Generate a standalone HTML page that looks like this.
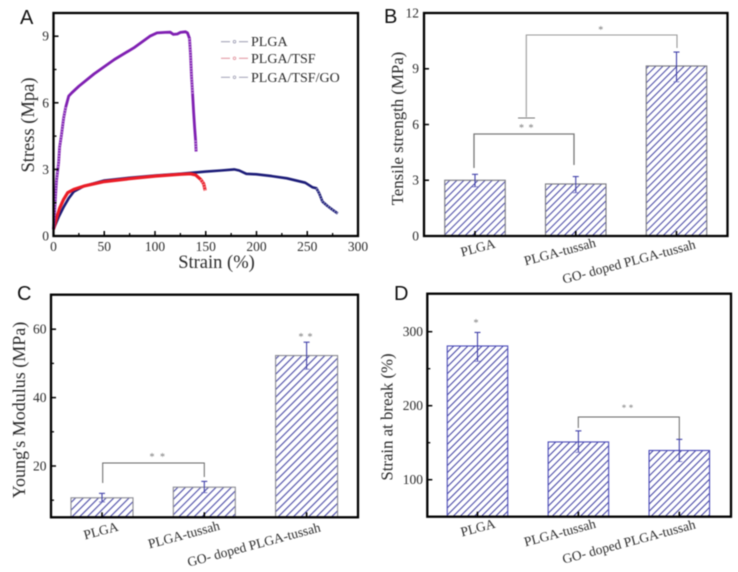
<!DOCTYPE html>
<html lang="en">
<head>
<meta charset="utf-8">
<title>Mechanical properties of PLGA films</title>
<style>
html,body{margin:0;padding:0;background:#fff;width:738px;height:572px;overflow:hidden}
svg{display:block;filter:blur(0.4px)}
text{font-family:"Liberation Serif",serif;fill:#2b2b2b}
.letter{font-family:"Liberation Sans",sans-serif;font-size:20px;fill:#111}
</style>
</head>
<body>
<svg id="fig" xmlns="http://www.w3.org/2000/svg" width="738" height="572" viewBox="0 0 738 572">
  <defs>
    <pattern id="hatchB" width="5" height="5" patternUnits="userSpaceOnUse" patternTransform="rotate(45)"><rect width="1.05" height="5" fill="#4a4aa6"/></pattern>
    <pattern id="hatchC" width="5.4" height="5.4" patternUnits="userSpaceOnUse" patternTransform="rotate(45)"><rect width="1.1" height="5.4" fill="#4a4aa6"/></pattern>
    <pattern id="hatchD" width="5" height="5" patternUnits="userSpaceOnUse" patternTransform="rotate(45)"><rect width="1.05" height="5" fill="#4444a4"/></pattern>
  </defs>
  <text class="letter" x="20" y="24">A</text>
  <text class="letter" x="384" y="23">B</text>
  <text class="letter" x="17" y="300">C</text>
  <text class="letter" x="394" y="300">D</text>
</svg>
<script>
// Panel A data: strain (%) and stress (MPa)
const plgaStrain = [0,5,10,15,20,30,50,75,100,125,150,165,178,183,190,200,215,230,248,255,259,262,265,270,275,280];
const plgaStress = [0.3,0.85,1.3,1.7,2,2.25,2.5,2.62,2.72,2.8,2.9,2.95,3,2.95,2.8,2.78,2.7,2.6,2.4,2.2,2.15,1.9,1.55,1.35,1.18,1.02];
const tsfStrain = [0,3,6,10,14,20,30,50,75,100,125,135,140,145,148,149.5];
const tsfStress = [0.3,0.8,1.25,1.65,1.95,2.1,2.25,2.45,2.58,2.7,2.78,2.8,2.75,2.55,2.35,2.05];
const goStrain = [0,1,2,3,5,6,8,10,12,15,18,25,40,60,80,95,102,110,115,118,122,125,130,132,134,135,136,137,138,139,140,140.5];
const goStress = [0.3,1,1.8,2.5,3.3,4,4.6,5.3,5.8,6.3,6.45,6.75,7.3,7.95,8.5,9,9.15,9.17,9.18,9.08,9.1,9.17,9.2,9.15,8.9,8.2,7.2,6.4,5.6,4.9,4.3,3.8];
const legendLabels = ['PLGA','PLGA/TSF','PLGA/TSF/GO'];
const strainTicks = [0,50,100,150,200,250,300];
const strainMinor = [25,75,125,175,225,275];
const stressTicks = [0,3,6,9];
const stressMinor = [1.5,4.5,7.5];

// Bar panels data
const categories = ['PLGA','PLGA-tussah','GO- doped PLGA-tussah'];
const tensileValues = [3.0,2.8,9.15];
const tensileHigh = [3.32,3.2,9.9];
const tensileLow = [2.65,2.33,8.3];
const tensileTicks = [0,3,6,9,12];
const modulusValues = [10.7,13.8,52.3];
const modulusHigh = [12,15.5,56.2];
const modulusLow = [9.5,12.2,48.3];
const modulusTicks = [20,40,60];
const modulusMinor = [10,30,50];
const breakValues = [280.7,151,139.5];
const breakHigh = [299,166,154.5];
const breakLow = [260,137,124.5];
const breakTicks = [100,200,300];
const breakMinor = [150,250];

const svg = document.getElementById('fig');
const NS = 'http://www.w3.org/2000/svg';
function mk(tag, attrs, text){
  const el = document.createElementNS(NS, tag);
  for (const k in attrs) el.setAttribute(k, attrs[k]);
  if (text !== undefined) el.textContent = text;
  svg.appendChild(el);
  return el;
}
function label(name, x, y, size, str, anchor, rot){
  const a = {x:x, y:y, 'font-size':size, 'text-anchor':anchor || 'middle'};
  if (rot) a.transform = 'rotate(' + rot + ' ' + x + ' ' + y + ')';
  const el = mk('text', a, str);
  
  
  return el;
}
function gline(name, x1, y1, x2, y2, color, w){
  const el = mk('line', {x1:x1, y1:y1, x2:x2, y2:y2, stroke:color, 'stroke-width':w});
  
  
  return el;
}
function frame(name, l, t, r, b){
  const el = mk('rect', {x:l, y:t, width:r-l, height:b-t, fill:'none', stroke:'#000', 'stroke-width':2.3});
  
  
}
function yAxis(prefix, l, yS, ticks, minor, size, labelX){
  ticks.forEach(v => {
    gline(prefix + '-y-tick', l, yS(v), l + 5, yS(v), '#000', 1.5);
    label(prefix + '-y-tick-label', labelX, yS(v) + size * 0.33, size, String(v), 'end');
  });
  minor.forEach(v => gline(prefix + '-y-minor-tick', l, yS(v), l + 3, yS(v), '#000', 1.3));
}
function bars(prefix, cfg, values, high, low){
  values.forEach((v, i) => {
    const c = cfg.x(i);
    const el = mk('rect', {x:c - cfg.w/2, y:cfg.y(v), width:cfg.w, height:cfg.b - cfg.y(v), fill:'url(#' + cfg.hatch + ')', stroke:cfg.edge, 'stroke-width':1.1});
    
    
    gline(prefix + '-error-stem', c, cfg.y(high[i]), c, cfg.y(low[i]), '#4040a8', 1.1);
    gline(prefix + '-error-cap-top', c - 3, cfg.y(high[i]), c + 3, cfg.y(high[i]), '#4040a8', 1.1);
    gline(prefix + '-error-cap-bottom', c - 3, cfg.y(low[i]), c + 3, cfg.y(low[i]), '#6a6ac0', 0.8);
    gline(prefix + '-x-tick', c, cfg.b, c, cfg.b - 5, '#000', 1.6);
  });
}
function catLabels(prefix, xs, ys){
  categories.forEach((c, i) => label(prefix + '-category-label', xs[i], ys[i], 13.5, c, 'middle', -15));
}
function bracket(name, x1, x2, y, d1, d2, color, w){
  const el = mk('path', {d:'M' + x1 + ' ' + d1 + 'V' + y + 'H' + x2 + 'V' + d2, fill:'none', stroke:color, 'stroke-width':w});
  
  
}
function star(name, x, y, size){
  const el = label(name, x, y, size, '*');
  el.style.fill = '#777';
}

/* Panel A */
const ax = v => 53.5 + v * 1.015;
const ay = v => 236 - v * 22.2;
// Draws the curve, then lightens contiguous stretches where hollow markers show through in the source
function curve(name, xs, ys, color, width, isHollow){
  const pts = xs.map((x, i) => ax(x).toFixed(1) + ',' + ay(ys[i]).toFixed(1)).join(' ');
  const el = mk('polyline', {points:pts, fill:'none', stroke:color, 'stroke-width':width, 'stroke-linejoin':'round'});
  
  
  let run = [];
  const flush = () => {
    if (run.length > 1) {
      const ov = mk('polyline', {points:run.join(' '), fill:'none', stroke:'#fff', 'stroke-width':width - 0.9, 'stroke-dasharray':'1.2 1.5', opacity:0.5});
      
      
    }
    run = [];
  };
  xs.forEach((x, i) => {
    if (isHollow(x, ys[i])) run.push(ax(x).toFixed(1) + ',' + ay(ys[i]).toFixed(1));
    else flush();
  });
  flush();
}
curve('plga-curve', plgaStrain, plgaStress, '#1c1c78', 2.6, (x) => x >= 259);
curve('plga-tsf-curve', tsfStrain, tsfStress, '#ea1c26', 3.2, (x) => x >= 145);
curve('plga-tsf-go-curve', goStrain, goStress, '#7f1fb2', 2.8, (x, y) => (x < 15 && y < 6) || (x >= 134 && y > 6.2) || x >= 139.5);
frame('panel-a-frame', 53.5, 13, 358, 236);
yAxis('panel-a', 53.5, ay, stressTicks, stressMinor, 13.5, 49);
strainTicks.forEach(v => {
  gline('panel-a-x-tick', ax(v), 236, ax(v), 231, '#000', 1.5);
  label('panel-a-x-tick-label', ax(v), 251, 13.5, String(v));
});
strainMinor.forEach(v => gline('panel-a-x-minor-tick', ax(v), 236, ax(v), 233, '#000', 1.3));
label('panel-a-x-axis-title', 216.5, 268, 18.5, 'Strain (%)');
label('panel-a-y-axis-title', 34, 125, 18.5, 'Stress (Mpa)', 'middle', -90);
const legendColors = ['#9a9ab0','#e0909a','#a0a0b4'];
const legendRow = i => [41.7, 58.3, 77.3][i];
legendLabels.forEach((t, i) => {
  gline('legend-line-left', 221, legendRow(i), 230, legendRow(i), legendColors[i], 1);
  gline('legend-line-right', 239, legendRow(i), 248, legendRow(i), legendColors[i], 1);
  const m = mk('circle', {cx:234.5, cy:legendRow(i), r:1.3, fill:'#fff', stroke:legendColors[i], 'stroke-width':0.8});
  
  
  label('legend-entry', 251, legendRow(i) + 4.5, 14, t, 'start');
});

/* Panel B */
const bCfg = {x:i => 475 + i * 100.75, y:v => 236 - v * 18.58, w:60.5, b:236, hatch:'hatchB', edge:'#77777f'};
bars('tensile', bCfg, tensileValues, tensileHigh, tensileLow);
frame('panel-b-frame', 424, 13, 727.5, 236);
yAxis('panel-b', 424, bCfg.y, tensileTicks, [], 13.5, 419);
catLabels('panel-b', [479, 561, 630], [252, 256, 266]);
label('panel-b-y-axis-title', 403, 128.5, 16.8, 'Tensile strength (MPa)', 'middle', -90);
bracket('panel-b-bracket-lower', 474, 574, 134, 168, 165, '#777', 1.3);
bracket('panel-b-bracket-upper', 526.3, 677, 35, 117, 48, '#999', 1.1);
gline('panel-b-bracket-cap', 518, 118, 535, 118, '#777', 1.1);
star('panel-b-significance-lower', 521.5, 131, 10);
star('panel-b-significance-lower', 531, 131, 10);
star('panel-b-significance-upper', 600.7, 33, 10);

/* Panel C */
const cCfg = {x:i => 102 + i * 102.3, y:v => 466 - (v - 20) * 3.42, w:62, b:517.3, hatch:'hatchC', edge:'#8a8a92'};
bars('modulus', cCfg, modulusValues, modulusHigh, modulusLow);
frame('panel-c-frame', 51, 294.7, 358, 517.3);
yAxis('panel-c', 51, cCfg.y, modulusTicks, modulusMinor, 13.5, 46.5);
catLabels('panel-c', [102, 185, 255], [535, 539, 549]);
label('panel-c-y-axis-title', 25, 410, 18, "Young's Modulus (MPa)", 'middle', -90);
bracket('panel-c-bracket', 102.7, 204.3, 463, 483, 477, '#666', 1);
star('panel-c-significance-lower', 152, 460, 10);
star('panel-c-significance-lower', 162.5, 460, 10);
star('panel-c-significance-upper', 301, 340, 10);
star('panel-c-significance-upper', 310, 340, 10);

/* Panel D */
const dCfg = {x:i => 477.5 + i * 100.9, y:v => 479.7 - (v - 100) * 0.74, w:60.5, b:516.7, hatch:'hatchD', edge:'#4a4ab8'};
bars('strain-break', dCfg, breakValues, breakHigh, breakLow);
frame('panel-d-frame', 427.3, 293.7, 731, 516.7);
yAxis('panel-d', 427.3, dCfg.y, breakTicks, breakMinor, 13.5, 423);
catLabels('panel-d', [479, 561, 630], [532, 537, 546]);
label('panel-d-y-axis-title', 392.5, 417, 16.8, 'Strain at break (%)', 'middle', -90);
bracket('panel-d-bracket', 578.3, 679.3, 417, 428, 439, '#666', 1);
star('panel-d-significance-single', 476, 326, 10);
star('panel-d-significance-pair', 624, 411, 9);
star('panel-d-significance-pair', 631, 411, 9);
</script>
</body>
</html>
